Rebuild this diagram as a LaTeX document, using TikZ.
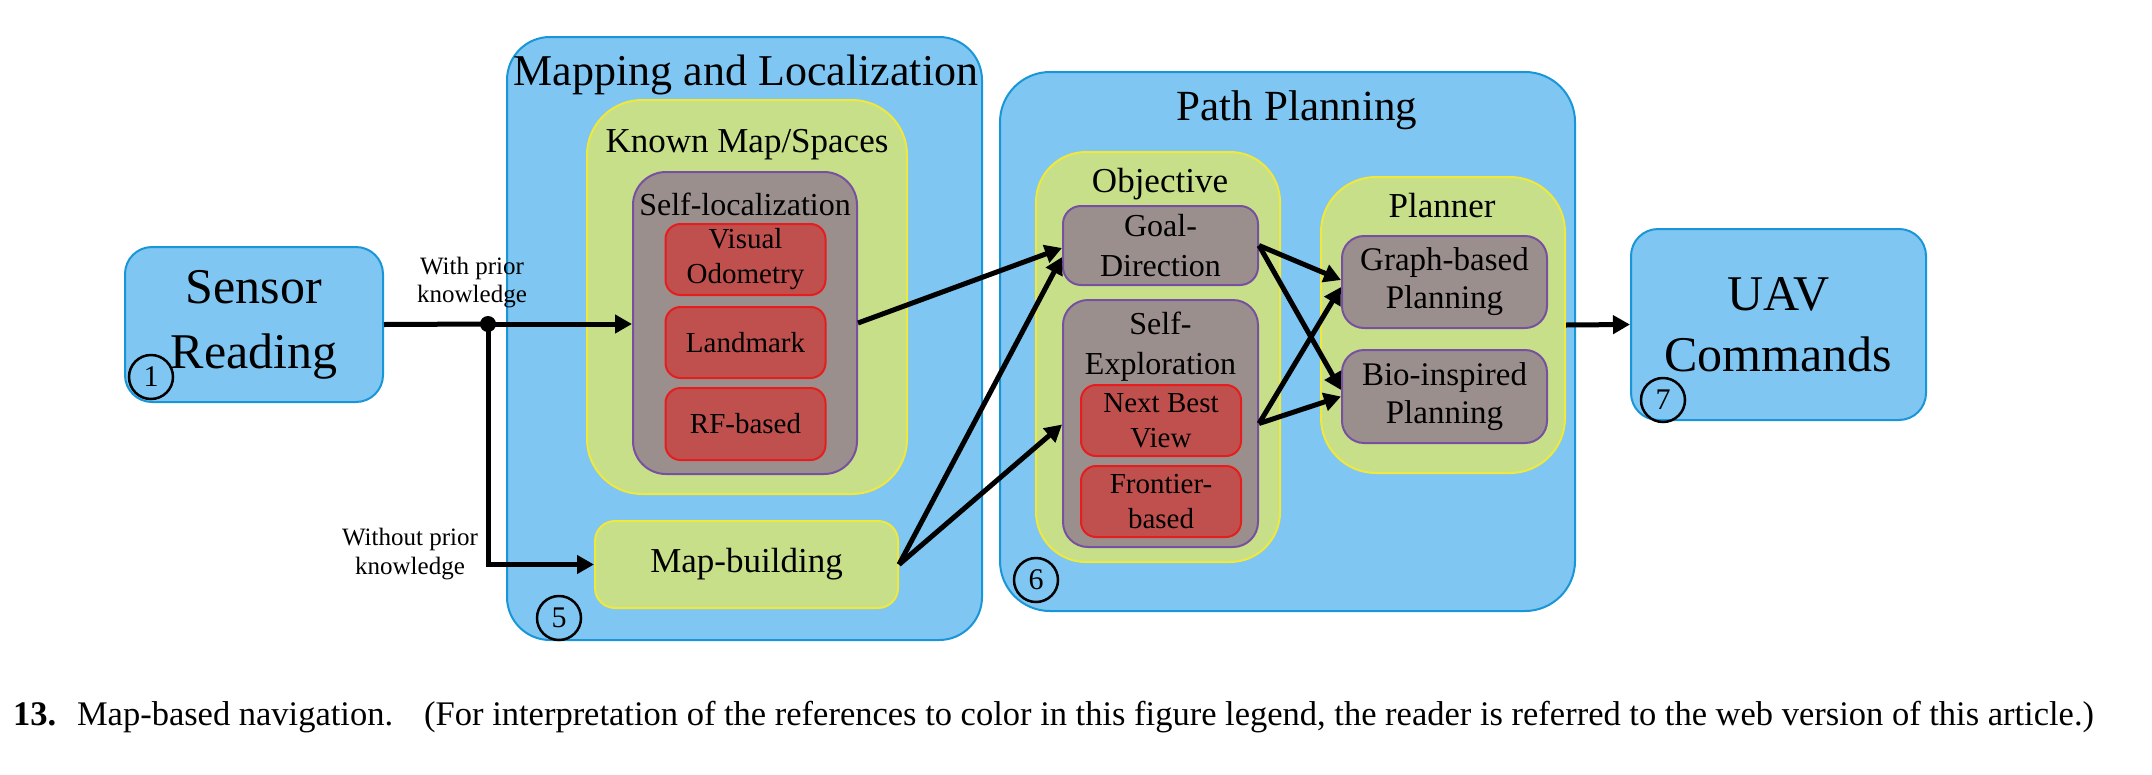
\documentclass[tikz,border=0pt]{standalone}
\usepackage{fontspec}
\setmainfont{Liberation Serif}
\usetikzlibrary{arrows.meta}
\definecolor{bfill}{RGB}{127,198,242}
\definecolor{bdraw}{RGB}{25,150,215}
\definecolor{gfill}{RGB}{200,223,138}
\definecolor{gdraw}{RGB}{240,232,60}
\definecolor{pfill}{RGB}{155,143,142}
\definecolor{pdraw}{RGB}{120,80,160}
\definecolor{rfill}{RGB}{192,80,77}
\definecolor{rdraw}{RGB}{228,30,30}
\newcommand{\fs}[2]{\fontsize{#1}{#2}\selectfont}
\begin{document}
\begin{tikzpicture}[x=1pt,y=-1pt,
  box/.style={draw, line width=2pt, inner sep=0pt, align=center},
  bluebox/.style={box, fill=bfill, draw=bdraw},
  greenbox/.style={box, fill=gfill, draw=gdraw},
  graybox/.style={box, fill=pfill, draw=pdraw},
  redbox/.style={box, fill=rfill, draw=rdraw},
  arr/.style={line width=5pt, -{Triangle[length=17pt,width=18pt]}},
  conn/.style={line width=5pt},
  numc/.style={circle, draw=black, line width=2.5pt, minimum size=44pt, inner sep=0pt, font=\fs{30}{30}},
  title/.style={anchor=base, inner sep=0pt},
  lbl/.style={align=center, inner sep=0pt}
]
\useasboundingbox (0,0) rectangle (2152,774);

% Sensor Reading
\node[bluebox, minimum width=258pt, minimum height=155pt, rounded corners=27pt, font=\fs{50}{65}] (sensor) at (254,324.5) {Sensor\\Reading};
\node[numc] (n1) at (151,377) {1};

% Mapping and Localization
\node[bluebox, minimum width=475pt, minimum height=603pt, rounded corners=43pt] (mapl) at (744.5,338.5) {};
\node[title, font=\fs{44}{44}] (mapltitle) at (746,85) {Mapping and Localization};
\node[greenbox, minimum width=320pt, minimum height=394pt, rounded corners=55pt] (known) at (747,297) {};
\node[title, font=\fs{35}{35}] (knowntitle) at (747,152) {Known Map/Spaces};
\node[graybox, minimum width=224pt, minimum height=302pt, rounded corners=33pt] (selfloc) at (745,323) {};
\node[title, font=\fs{32}{32}] (sltitle) at (745,215) {Self-localization};
\node[redbox, minimum width=160pt, minimum height=71pt, rounded corners=15pt, font=\fs{29}{35}] (vo) at (745.5,259.5) {Visual\\Odometry};
\node[redbox, minimum width=160pt, minimum height=71pt, rounded corners=15pt, font=\fs{29}{35}] (landmark) at (745.5,342.5) {Landmark};
\node[redbox, minimum width=160pt, minimum height=72pt, rounded corners=15pt, font=\fs{29}{35}] (rf) at (745.5,424) {RF-based};
\node[greenbox, minimum width=303pt, minimum height=87pt, rounded corners=20pt, font=\fs{35}{35}] (mapb) at (746.5,564.5) {Map-building};
\node[numc] (n5) at (559,618) {5};

% Path Planning
\node[bluebox, minimum width=575pt, minimum height=539pt, rounded corners=50pt] (pathp) at (1287.5,341.5) {};
\node[title, font=\fs{43}{43}] (pptitle) at (1297,120) {Path Planning};
\node[greenbox, minimum width=244pt, minimum height=410pt, rounded corners=50pt] (objective) at (1158,357) {};
\node[title, font=\fs{35}{35}] (objtitle) at (1160,192) {Objective};
\node[graybox, minimum width=195pt, minimum height=79pt, rounded corners=18pt, font=\fs{32}{40}] (goal) at (1160.5,245.5) {Goal-\\Direction};
\node[graybox, minimum width=195pt, minimum height=247pt, rounded corners=25pt] (selfexp) at (1160.5,423.5) {};
\node[lbl, font=\fs{32}{40}] (setitle) at (1160.5,347) {Self-\\Exploration};
\node[redbox, minimum width=160pt, minimum height=71pt, rounded corners=15pt, font=\fs{29}{35}] (nbv) at (1161,420.5) {Next Best\\View};
\node[redbox, minimum width=160pt, minimum height=71pt, rounded corners=15pt, font=\fs{29}{35}] (frontier) at (1161,501.5) {Frontier-\\based};
\node[numc] (n6) at (1036,580) {6};
\node[greenbox, minimum width=244pt, minimum height=296pt, rounded corners=55pt] (planner) at (1443,325) {};
\node[title, font=\fs{35}{35}] (pltitle) at (1442,217) {Planner};
\node[graybox, minimum width=205pt, minimum height=92pt, rounded corners=22pt, font=\fs{33}{38}] (graph) at (1444.5,282) {Graph-based\\Planning};
\node[graybox, minimum width=205pt, minimum height=93pt, rounded corners=22pt, font=\fs{33}{38}] (bio) at (1444.5,396.5) {Bio-inspired\\Planning};

% UAV Commands
\node[bluebox, minimum width=295pt, minimum height=191pt, rounded corners=27pt, font=\fs{50}{61}] (uav) at (1778.5,324.5) {UAV\\Commands};
\node[numc] (n7) at (1663,400) {7};

% labels
\node[lbl, font=\fs{25}{28}] (withlbl) at (472,283) {With prior\\knowledge};
\node[lbl, font=\fs{25}{29}] (withoutlbl) at (410,554) {Without prior\\knowledge};

% connectors
\node[circle, fill=black, inner sep=0pt, minimum size=16pt] (jn) at (488,324) {};
\draw[conn] (sensor.east) -- (jn.center);
\draw[arr] (jn.center) -- (jn.center -| selfloc.west);
\draw[arr] (jn.center) |- (mapb.west);
\draw[arr] (selfloc.east) -- ([yshift=-2.5pt]goal.west);
\draw[arr] (mapb.east) -- ([yshift=-11.5pt]goal.west);
\draw[arr] (mapb.east) -- ([yshift=-1pt]selfexp.west);
\draw[arr] (goal.east) -- ([yshift=2pt]graph.west);
\draw[arr] (goal.east) -- ([yshift=6.5pt]bio.west);
\draw[arr] (selfexp.east) -- ([yshift=-5pt]graph.west);
\draw[arr] (selfexp.east) -- (bio.west);
\draw[arr] (planner.east) -- (uav.west);

% caption
\node[anchor=base west, inner sep=0pt, font=\fs{34.5}{34.5}] (caption) at (13,725) {\textbf{13.}\hspace{0.6em}Map-based navigation.\hspace{0.9em}(For interpretation of the references to color in this figure legend, the reader is referred to the web version of this article.)};
\end{tikzpicture}
\end{document}
